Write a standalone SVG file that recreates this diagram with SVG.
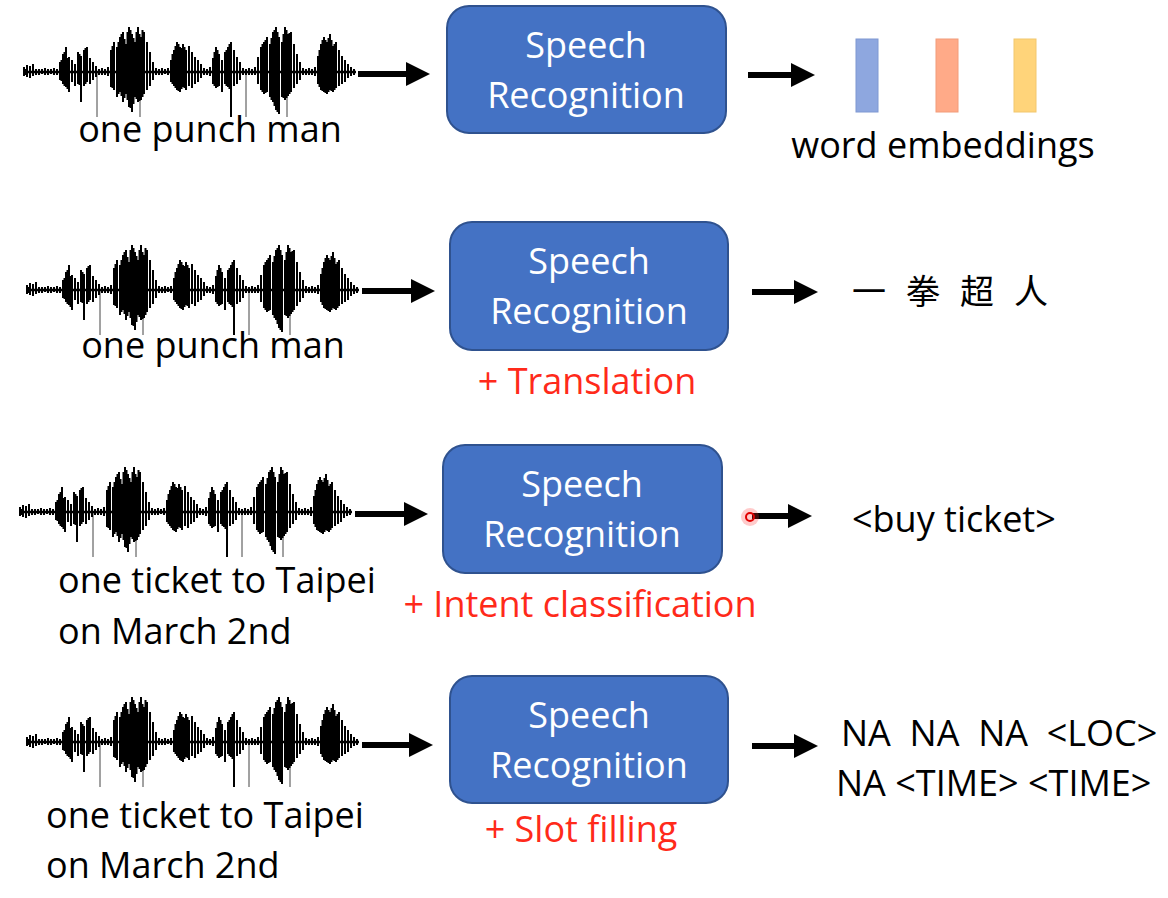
<svg xmlns="http://www.w3.org/2000/svg" xmlns:xlink="http://www.w3.org/1999/xlink" width="1168" height="898" viewBox="0 0 1168 898">
<style>
.box{fill:#4472C4;stroke:#2F528F;stroke-width:2}
.bt{fill:#fff;font-family:"Open Sans","Noto Sans",sans-serif;font-size:36px;text-anchor:middle}
.t{fill:#000;font-family:"Open Sans","Noto Sans",sans-serif;font-size:36px}
.r{fill:#FF2A1A;font-family:"Open Sans","Noto Sans",sans-serif;font-size:36px;text-anchor:middle}
.ar{stroke:#000;stroke-width:6;fill:none}
.wv{stroke:#000;stroke-width:2;fill:none}
.sp{stroke:#444;stroke-width:1;fill:none}
</style>
<defs>
<marker id="ah" markerWidth="4" markerHeight="4" refX="2" refY="2" orient="auto" markerUnits="strokeWidth"><path d="M0,0 L4,2 L0,4 Z" fill="#000"/></marker>
<g id="wave">
<path class="sp" d="M73 0 V45 M116 0 V45 M222 0 V45 M263 0 V45"/>
<path d="M0 0 H332" stroke="#000" stroke-width="2.5"/>
<path class="wv" d="M0 -5V4M3 -7V5M6 -6V6M9 -8V4M12 -3V3M15 -3V3M18 -3V2M21 -4V3M24 -3V3M27 -3V2M30 -4V3M33 -3V3M36 -10V8M39 -18V12M42 -25V15M45 -15V20M48 -12V10M51 -8V14M54 -20V12M57 -16V30M60 -22V14M63 -25V10M66 -14V12M69 -10V8M72 -6V5M75 -3V3M78 -4V3M81 -3V3M84 -5V4M87 -22V15M90 -30V18M93 -25V25M96 -35V20M99 -40V30M102 -28V22M105 -45V35M108 -38V40M111 -30V25M114 -45V30M117 -35V28M120 -40V22M123 -30V18M126 -20V14M129 -10V8M132 -4V3M135 -3V3M138 -4V3M141 -3V2M144 -4V3M147 -12V10M150 -22V14M153 -30V18M156 -25V20M159 -28V15M162 -22V18M165 -26V14M168 -20V16M171 -15V12M174 -12V10M177 -8V6M180 -4V3M183 -3V3M186 -5V4M189 -14V12M192 -25V16M195 -18V14M198 -12V20M201 -20V12M204 -25V15M207 -30V45M210 -22V14M213 -15V12M216 -10V8M219 -4V3M222 -3V3M225 -4V3M228 -3V3M231 -5V3M234 -15V12M237 -25V18M240 -30V22M243 -35V20M246 -28V25M249 -40V30M252 -45V38M255 -35V42M258 -30V25M261 -45V28M264 -38V24M267 -40V20M270 -28V16M273 -18V12M276 -10V8M279 -4V3M282 -3V3M285 -4V3M288 -3V3M291 -5V4M294 -16V12M297 -28V18M300 -35V20M303 -30V22M306 -38V18M309 -26V20M312 -30V16M315 -22V14M318 -16V12M321 -12V10M324 -8V6M327 -5V4M330 -3V3"/>
<path class="wv" stroke-width="1.2" d="M1.5 -3V3M37.5 -12V9M40.5 -20V14M43.5 -14V17M55.5 -18V13M61.5 -24V12M88.5 -26V16M94.5 -30V22M97.5 -38V24M100.5 -33V26M103.5 -40V28M106.5 -42V36M109.5 -34V32M112.5 -40V27M115.5 -38V29M118.5 -42V25M148.5 -18V12M151.5 -26V16M154.5 -28V19M157.5 -24V17M160.5 -25V16M190.5 -20V14M193.5 -22V15M202.5 -22V14M205.5 -28V17M238.5 -28V20M241.5 -32V21M247.5 -34V28M250.5 -42V34M253.5 -40V40M259.5 -38V26M262.5 -42V26M265.5 -39V22M295.5 -22V15M298.5 -32V19M301.5 -32V21M304.5 -34V20M307.5 -32V19M310.5 -28V18"/>
</g>
</defs>

<g id="waves">
<use xlink:href="#wave" href="#wave" transform="translate(24,72)"/>
<use xlink:href="#wave" href="#wave" transform="translate(27,290)"/>
<use xlink:href="#wave" href="#wave" transform="translate(20,512)"/>
<use xlink:href="#wave" href="#wave" transform="translate(27,742)"/>
</g>

<g id="connectors">
<path class="ar" d="M358 74 H418" marker-end="url(#ah)"/>
<path class="ar" d="M748 75 H803" marker-end="url(#ah)"/>
<path class="ar" d="M362 291 H423" marker-end="url(#ah)"/>
<path class="ar" d="M752 292 H806" marker-end="url(#ah)"/>
<path class="ar" d="M355 514 H416" marker-end="url(#ah)"/>
<path class="ar" d="M752 516 H800" marker-end="url(#ah)"/>
<path class="ar" d="M362 745 H421" marker-end="url(#ah)"/>
<path class="ar" d="M752 746 H806" marker-end="url(#ah)"/>
</g>

<g id="sr1"><rect class="box" x="447" y="6" width="279" height="127" rx="22"/><text class="bt" x="586" y="58">Speech</text><text class="bt" x="586" y="108">Recognition</text></g>
<g id="sr2"><rect class="box" x="450" y="222" width="278" height="128" rx="22"/><text class="bt" x="589" y="274">Speech</text><text class="bt" x="589" y="324">Recognition</text></g>
<g id="sr3"><rect class="box" x="443" y="445" width="279" height="128" rx="22"/><text class="bt" x="582" y="497">Speech</text><text class="bt" x="582" y="547">Recognition</text></g>
<g id="sr4"><rect class="box" x="450" y="676" width="278" height="127" rx="22"/><text class="bt" x="589" y="728">Speech</text><text class="bt" x="589" y="778">Recognition</text></g>

<g id="labels">
<text class="t" x="210" y="142" text-anchor="middle">one punch man</text>
<text class="t" x="213" y="358" text-anchor="middle">one punch man</text>
<text class="t" x="58" y="593">one ticket to Taipei</text>
<text class="t" x="58" y="644">on March 2nd</text>
<text class="t" x="46" y="828">one ticket to Taipei</text>
<text class="t" x="46" y="878">on March 2nd</text>
<text class="r" x="587" y="394">+ Translation</text>
<text class="r" x="580" y="617">+ Intent classification</text>
<text class="r" x="581" y="842">+ Slot filling</text>
</g>

<g id="embeddings">
<rect x="856" y="39" width="22" height="73" fill="#8EA7DF" stroke="#7F98D2" stroke-width="1"/>
<rect x="936" y="39" width="22" height="73" fill="#FFAA88" stroke="#F29C7A" stroke-width="1"/>
<rect x="1014" y="39" width="22" height="73" fill="#FFD47A" stroke="#F2C76E" stroke-width="1"/>
<text class="t" x="943" y="158" text-anchor="middle">word embeddings</text>
</g>

<g id="outputs">
<text class="t" x="852" y="304" letter-spacing="20" style="font-family:'Noto Sans CJK TC','Noto Sans CJK SC',sans-serif;font-size:34px">一拳超人</text>
<text class="t" x="852" y="532">&lt;buy ticket&gt;</text>
<text class="t" x="841" y="746" xml:space="preserve">NA  NA  NA  &lt;LOC&gt;</text>
<text class="t" x="836" y="796">NA &lt;TIME&gt; &lt;TIME&gt;</text>
</g>

<g id="pointer">
<circle cx="750" cy="517" r="9" fill="#FF3030" opacity="0.25"/>
<circle cx="750" cy="517" r="4" fill="none" stroke="#E00000" stroke-width="2"/>
</g>
</svg>
